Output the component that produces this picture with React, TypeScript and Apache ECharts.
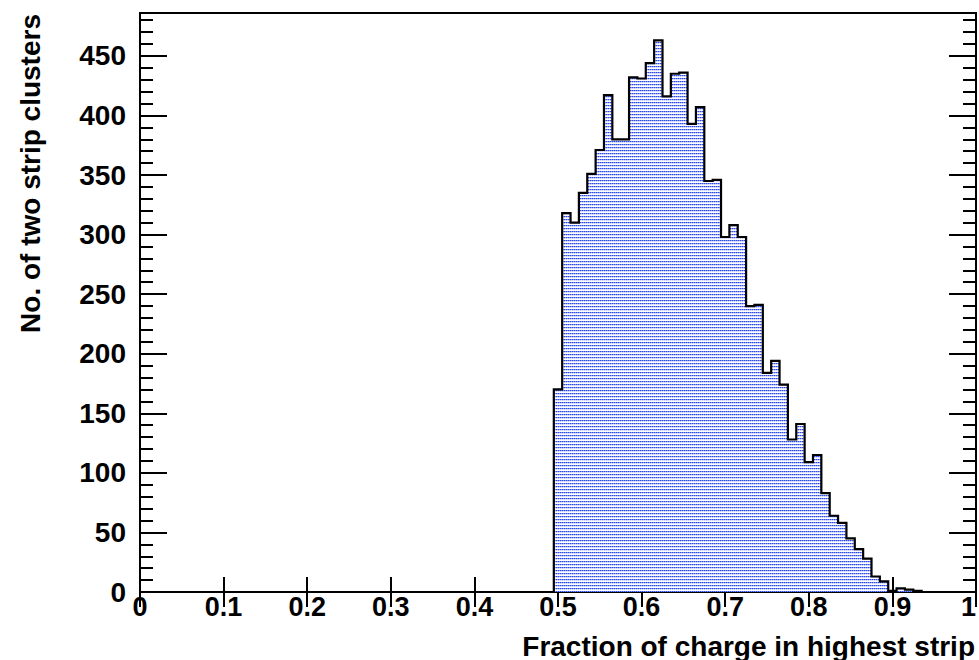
import React, { useEffect, useRef } from "react";
import * as echarts from "echarts";

// Histogram bin centres (bin width 0.01) and counts
const binCenters = [
  0.5, 0.51, 0.52, 0.53, 0.54, 0.55, 0.56, 0.57, 0.58, 0.59,
  0.6, 0.61, 0.62, 0.63, 0.64, 0.65, 0.66, 0.67, 0.68, 0.69,
  0.7, 0.71, 0.72, 0.73, 0.74, 0.75, 0.76, 0.77, 0.78, 0.79,
  0.8, 0.81, 0.82, 0.83, 0.84, 0.85, 0.86, 0.87, 0.88, 0.89,
  0.9, 0.91, 0.92, 0.93,
];
const counts = [
  170, 318, 310, 335, 351, 371, 417, 380, 380, 432,
  431, 444, 463, 416, 435, 436, 393, 407, 345, 346,
  298, 308, 298, 240, 241, 184, 194, 174, 128, 141,
  109, 115, 83, 64, 58, 45, 36, 28, 13, 9,
  1, 3, 2, 1,
];
const binWidth = 0.01;
const xMin = 0;
const xMax = 1;
const xInterval = 0.1;
const yMin = 0;
const yMax = 486;
const yMajor = 50;
const yMinor = 10;
const xTitle = "Fraction of charge in highest strip";
const yTitle = "No. of two strip clusters";

const FONT = "'Liberation Sans', Arial, Helvetica, sans-serif";

function makePattern(): HTMLCanvasElement {
  const c = document.createElement("canvas");
  c.width = 2;
  c.height = 3;
  const ctx = c.getContext("2d")!;
  ctx.fillStyle = "#ffffff";
  ctx.fillRect(0, 0, 2, 3);
  ctx.fillStyle = "#2a48f2";
  ctx.fillRect(0, 0, 1, 1);
  ctx.fillStyle = "#8094f7";
  ctx.fillRect(1, 0, 1, 1);
  ctx.fillStyle = "#c8d0fb";
  ctx.fillRect(0, 1, 1, 1);
  ctx.fillStyle = "#e6eafe";
  ctx.fillRect(1, 1, 1, 1);
  return c;
}

export default function App() {
  const ref = useRef<HTMLDivElement>(null);

  useEffect(() => {
    if (!ref.current) return;
    const chart = echarts.init(ref.current, undefined, { renderer: "svg" });

    const pts: number[][] = [[xMin, 0]];
    binCenters.forEach((c, i) => {
      pts.push([+(c - binWidth / 2).toFixed(4), counts[i]]);
    });
    const lastEdge = +(binCenters[binCenters.length - 1] + binWidth / 2).toFixed(4);
    pts.push([lastEdge, 0]);
    pts.push([xMax, 0]);

    let fill: any = "#b4c0f6";
    try {
      fill = { image: makePattern(), repeat: "repeat" };
    } catch (e) {
      fill = "#b4c0f6";
    }

    const tickStyle = { color: "#000", width: 2 };
    const yAxisCommon = {
      type: "value",
      min: yMin,
      max: yMax,
      splitLine: { show: false },
    };

    chart.setOption({
      animation: false,
      backgroundColor: "#ffffff",
      grid: {
        left: 140,
        top: 13,
        width: 836,
        height: 579,
        show: true,
        borderColor: "#000",
        borderWidth: 2,
        backgroundColor: "transparent",
        containLabel: false,
        outerBoundsMode: "none",
      },
      xAxis: [
        {
          type: "value",
          min: xMin,
          max: xMax,
          interval: xInterval,
          position: "bottom",
          axisLine: { show: true, lineStyle: { color: "#000", width: 2 } },
          axisTick: { show: true, inside: true, length: 15, lineStyle: tickStyle },
          splitLine: { show: false },
          axisLabel: {
            show: true,
            margin: 1,
            color: "#000",
            fontSize: 27,
            fontWeight: "bold",
            fontFamily: FONT,
            alignMaxLabel: "right",
            formatter: (v: number) => String(Math.round(v * 10) / 10),
          },
        },
        {
          type: "value",
          min: xMin,
          max: xMax,
          interval: xInterval,
          position: "top",
          axisLine: { show: true, lineStyle: { color: "#000", width: 2 } },
          axisTick: { show: true, inside: true, length: 15, lineStyle: tickStyle },
          splitLine: { show: false },
          axisLabel: { show: false },
        },
      ],
      yAxis: [
        {
          ...yAxisCommon,
          interval: yMajor,
          position: "left",
          axisLine: { show: true, lineStyle: { color: "#000", width: 2 } },
          axisTick: { show: true, inside: true, length: 27, lineStyle: tickStyle },
          axisLabel: {
            show: true,
            margin: 14,
            color: "#000",
            fontSize: 28,
            fontWeight: "bold",
            fontFamily: FONT,
            formatter: (v: number) => (v % yMajor === 0 ? String(v) : ""),
          },
        },
        {
          ...yAxisCommon,
          interval: yMinor,
          position: "left",
          axisLine: { show: false },
          axisTick: { show: true, inside: true, length: 13, lineStyle: tickStyle },
          axisLabel: { show: false },
        },
        {
          ...yAxisCommon,
          interval: yMajor,
          position: "right",
          axisLine: { show: true, lineStyle: { color: "#000", width: 2 } },
          axisTick: { show: true, inside: true, length: 27, lineStyle: tickStyle },
          axisLabel: { show: false },
        },
        {
          ...yAxisCommon,
          interval: yMinor,
          position: "right",
          axisLine: { show: false },
          axisTick: { show: true, inside: true, length: 13, lineStyle: tickStyle },
          axisLabel: { show: false },
        },
      ],
      series: [
        {
          type: "line",
          xAxisIndex: 0,
          yAxisIndex: 0,
          step: "end",
          symbol: "none",
          data: pts,
          lineStyle: { color: "#000", width: 2.2, join: "miter" },
          areaStyle: { color: fill, opacity: 1 },
          z: 1,
        },
      ],
      graphic: [
        {
          type: "text",
          x: 975,
          y: 646,
          style: {
            text: xTitle,
            fill: "#000",
            font: `bold 28px ${FONT}`,
            textAlign: "right",
            textVerticalAlign: "middle",
          },
        },
        {
          type: "text",
          x: 30,
          y: 14,
          rotation: Math.PI / 2,
          style: {
            text: yTitle,
            fill: "#000",
            font: `bold 28px ${FONT}`,
            textAlign: "right",
            textVerticalAlign: "middle",
          },
        },
      ],
    });

    return () => chart.dispose();
  }, []);

  return (
    <div
      ref={ref}
      style={{ position: "fixed", left: 0, top: 0, width: 979, height: 660, background: "#fff" }}
    />
  );
}
